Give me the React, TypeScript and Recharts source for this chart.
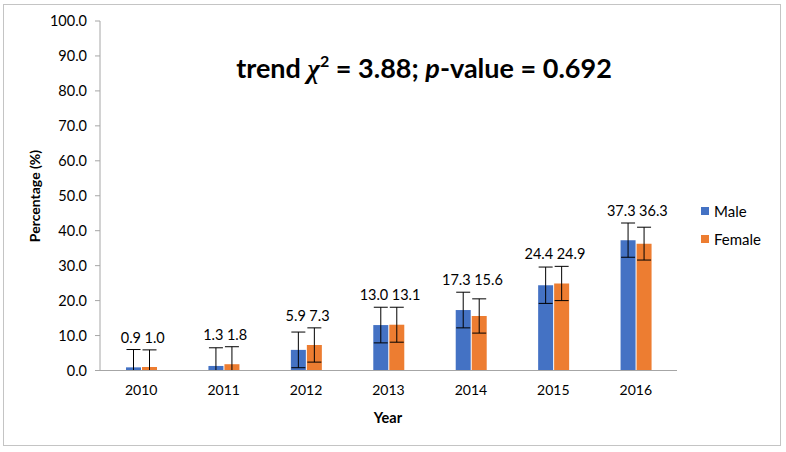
import React from "react";
import { Bar, BarChart, ErrorBar, LabelList, Legend, XAxis, YAxis } from "recharts";

const years = ["2010", "2011", "2012", "2013", "2014", "2015", "2016"];
const male = [0.9, 1.3, 5.9, 13.0, 17.3, 24.4, 37.3];
const female = [1.0, 1.8, 7.3, 13.1, 15.6, 24.9, 36.3];
// half-widths of the error bars
const maleErr = [5.1, 5.2, 5.1, 5.1, 5.1, 5.2, 4.9];
const femaleErr = [4.9, 5.0, 4.9, 5.0, 4.9, 4.9, 4.7];
const yTicks = [0, 10, 20, 30, 40, 50, 60, 70, 80, 90, 100];
const seriesOrder = ["Male", "Female"];

const FONT = "Lato, 'Open Sans', sans-serif";
const BLUE = "#4472C4";
const ORANGE = "#ED7D31";
const AXIS = "#A6A6A6";

// error bars stop at the axis
const data = years.map((year, i) => ({
  year,
  male: male[i],
  female: female[i],
  maleErr: [Math.min(male[i], maleErr[i]), maleErr[i]],
  femaleErr: [Math.min(female[i], femaleErr[i]), femaleErr[i]],
}));

// both labels of a year sit on one line above the taller error bar
function makeLabel(side: "male" | "female") {
  return (props: any) => {
    const vb = props.viewBox || props;
    const { x, y, width, height } = vb;
    const i = props.index;
    const v = side === "male" ? male[i] : female[i];
    const scale = height / v;
    const bottom = y + height;
    const top = Math.max(male[i] + maleErr[i], female[i] + femaleErr[i]);
    const ly = bottom - top * scale - 7;
    const lx = side === "male" ? x + width : x + 2.5;
    return (
      <text
        x={lx}
        y={ly}
        textAnchor={side === "male" ? "end" : "start"}
        fontSize={14.5}
        fontFamily={FONT}
        fill="#000"
      >
        {Number(props.value).toFixed(1)}
      </text>
    );
  };
}

function LegendBox({ payload }: any) {
  const items = [...(payload || [])].sort(
    (a: any, b: any) => seriesOrder.indexOf(a.value) - seriesOrder.indexOf(b.value)
  );
  return (
    <div style={{ fontFamily: FONT, fontSize: 15, color: "#000" }}>
      {items.map((p: any) => (
        <div key={p.value} style={{ display: "flex", alignItems: "center", height: 28 }}>
          <span style={{ width: 8, height: 8, background: p.color, marginRight: 5, marginLeft: 1 }} />
          <span>{p.value}</span>
        </div>
      ))}
    </div>
  );
}

export default function App() {
  return (
    <div style={{ position: "absolute", left: 0, top: 0, width: 786, height: 452, background: "#fff" }}>
      <div
        style={{
          position: "absolute",
          left: 3,
          top: 4,
          width: 778,
          height: 442,
          border: "1px solid #C4C4C4",
          boxSizing: "border-box",
        }}
      />
      <div style={{ position: "absolute", left: 0, top: 0 }}>
        <BarChart
          width={786}
          height={452}
          data={data}
          margin={{ top: 21, right: 109, bottom: 51.5, left: 30 }}
          barSize={15}
          barGap={1}
        >
          <XAxis
            dataKey="year"
            height={30}
            tickLine={false}
            tickSize={6}
            tickMargin={9}
            stroke={AXIS}
            tick={{ fill: "#000", fontSize: 14, fontFamily: FONT }}
          />
          <YAxis
            width={70}
            domain={[0, 100]}
            ticks={yTicks}
            interval={0}
            tickSize={5}
            tickMargin={8}
            stroke={AXIS}
            tickFormatter={(v: number) => v.toFixed(1)}
            tick={{ fill: "#000", fontSize: 14.5, fontFamily: FONT }}
          />
          <Legend
            layout="vertical"
            align="center"
            verticalAlign="middle"
            wrapperStyle={{ left: 700, top: 197, width: 86 }}
            content={<LegendBox />}
          />
          <Bar dataKey="male" name="Male" fill={BLUE} isAnimationActive={false}>
            <ErrorBar dataKey="maleErr" width={7} stroke="#000" strokeWidth={1} direction="y" isAnimationActive={false} />
            <LabelList dataKey="male" content={makeLabel("male")} />
          </Bar>
          <Bar dataKey="female" name="Female" fill={ORANGE} isAnimationActive={false}>
            <ErrorBar dataKey="femaleErr" width={7} stroke="#000" strokeWidth={1} direction="y" isAnimationActive={false} />
            <LabelList dataKey="female" content={makeLabel("female")} />
          </Bar>
          <text x={424} y={78} textAnchor="middle" fontFamily={FONT} fontWeight="bold" fontSize={27} fill="#000">
            trend{" "}
            <tspan fontFamily="'Liberation Serif', serif" fontStyle="italic" fontWeight="bold">
              χ
            </tspan>
            <tspan dy={-11} fontSize={16}>
              2
            </tspan>
            <tspan dy={11}> = 3.88; </tspan>
            <tspan fontStyle="italic">p</tspan>
            -value = 0.692
          </text>
          <text
            x={40}
            y={196}
            transform="rotate(-90 40 196)"
            textAnchor="middle"
            fontFamily={FONT}
            fontWeight="bold"
            fontSize={14}
            fill="#000"
          >
            Percentage (%)
          </text>
          <text x={388} y={423} textAnchor="middle" fontFamily={FONT} fontWeight="bold" fontSize={14.5} fill="#000">
            Year
          </text>
        </BarChart>
      </div>
    </div>
  );
}
